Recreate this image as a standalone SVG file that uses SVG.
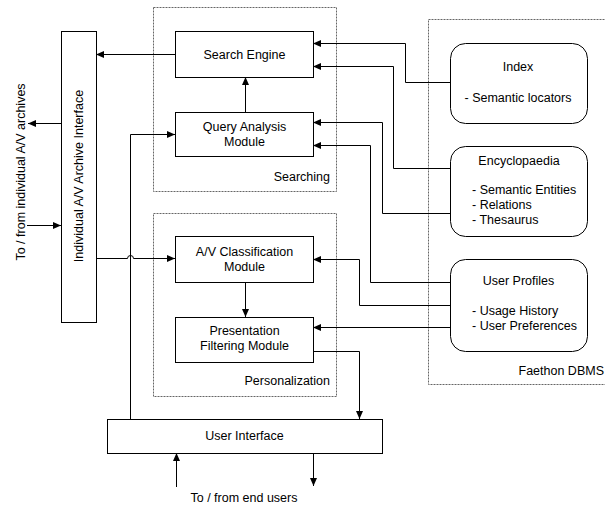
<svg xmlns="http://www.w3.org/2000/svg" width="605" height="507" viewBox="0 0 605 507">
<defs>
<marker id="ah" markerUnits="userSpaceOnUse" markerWidth="9" markerHeight="8" refX="8" refY="3.5" orient="auto">
<path d="M0,0 L8,3.5 L0,7 z" fill="#000"/>
</marker>
<style>
.box{fill:#fff;stroke:#000;stroke-width:1}
.grp{fill:none;stroke:#666;stroke-width:1;stroke-dasharray:2,1}
.t{font-family:"Liberation Sans",Arial,sans-serif;font-size:12.5px;fill:#000}
.m{text-anchor:middle}
.e{text-anchor:end}
.c{fill:none;stroke:#000;stroke-width:1}
.a{marker-end:url(#ah)}
</style>
</defs>
<rect width="605" height="507" fill="#fff"/>

<g id="searching">
<rect class="grp" x="153.5" y="7.5" width="183" height="184"/>
<text class="t e" x="330" y="181">Searching</text>
</g>
<g id="personalization">
<rect class="grp" x="153.5" y="213.5" width="183" height="183"/>
<text class="t e" x="330" y="385">Personalization</text>
</g>
<g id="faethon-dbms">
<rect class="grp" x="428.5" y="19.5" width="190" height="365"/>
<text class="t e" x="604" y="375">Faethon DBMS</text>
</g>

<g id="connectors">
<path class="c a" d="M175,54.5 H96"/>
<path class="c a" d="M61,123.5 H28"/>
<path class="c a" d="M27,225.5 H61"/>
<path class="c a" d="M245.5,112 V77"/>
<path class="c a" d="M96,258.5 H127.5 A3,3 0 0 1 133.5,258.5 H175"/>
<path class="c a" d="M130.5,419 V134.5 H175"/>
<path class="c a" d="M245.5,282 V317"/>
<path class="c a" d="M313,351.5 H359.5 V419"/>
<path class="c a" d="M176.5,487 V453"/>
<path class="c a" d="M313.5,453 V486"/>
<path class="c a" d="M450,82.5 H405.5 V43.5 H313"/>
<path class="c a" d="M450,168.5 H393.5 V66.5 H313"/>
<path class="c a" d="M450,213.5 H382.5 V122.5 H313"/>
<path class="c a" d="M450,282.5 H370.5 V145.5 H313"/>
<path class="c a" d="M450,305.5 H359.5 V259.5 H313"/>
<path class="c a" d="M450,327.5 H313"/>
</g>

<g id="archive-interface">
<rect class="box" x="61.5" y="31.5" width="35" height="291"/>
<text class="t m" transform="translate(83,176) rotate(-90)">Individual A/V Archive Interface</text>
</g>
<text class="t m" transform="translate(24.5,172) rotate(-90)">To / from individual A/V archives</text>

<g id="search-engine">
<rect class="box" x="175.5" y="31.5" width="138" height="46"/>
<text class="t m" x="244.5" y="58.5">Search Engine</text>
</g>
<g id="query-analysis">
<rect class="box" x="175.5" y="112.5" width="138" height="44"/>
<text class="t m" x="244.5" y="131">Query Analysis</text>
<text class="t m" x="244.5" y="145.5">Module</text>
</g>
<g id="av-classification">
<rect class="box" x="175.5" y="236.5" width="138" height="46"/>
<text class="t m" x="244.5" y="256">A/V Classification</text>
<text class="t m" x="244.5" y="270.5">Module</text>
</g>
<g id="presentation-filtering">
<rect class="box" x="175.5" y="317.5" width="138" height="45"/>
<text class="t m" x="244.5" y="335">Presentation</text>
<text class="t m" x="244.5" y="349.5">Filtering Module</text>
</g>
<g id="user-interface">
<rect class="box" x="107.5" y="419.5" width="275" height="34"/>
<text class="t m" x="244.5" y="440">User Interface</text>
</g>
<text class="t m" x="244" y="502">To / from end users</text>

<g id="index">
<rect class="box" x="450.5" y="43.5" width="137" height="80" rx="15"/>
<text class="t m" x="518" y="71">Index</text>
<text class="t m" x="518" y="101.5">- Semantic locators</text>
</g>
<g id="encyclopaedia">
<rect class="box" x="450.5" y="146.5" width="137" height="90" rx="15"/>
<text class="t m" x="519" y="165">Encyclopaedia</text>
<text class="t" x="472" y="194">- Semantic Entities</text>
<text class="t" x="472" y="209">- Relations</text>
<text class="t" x="472" y="223.5">- Thesaurus</text>
</g>
<g id="user-profiles">
<rect class="box" x="450.5" y="259.5" width="137" height="92" rx="15"/>
<text class="t m" x="518.5" y="285">User Profiles</text>
<text class="t" x="472" y="315">- Usage History</text>
<text class="t" x="472" y="330">- User Preferences</text>
</g>
</svg>
